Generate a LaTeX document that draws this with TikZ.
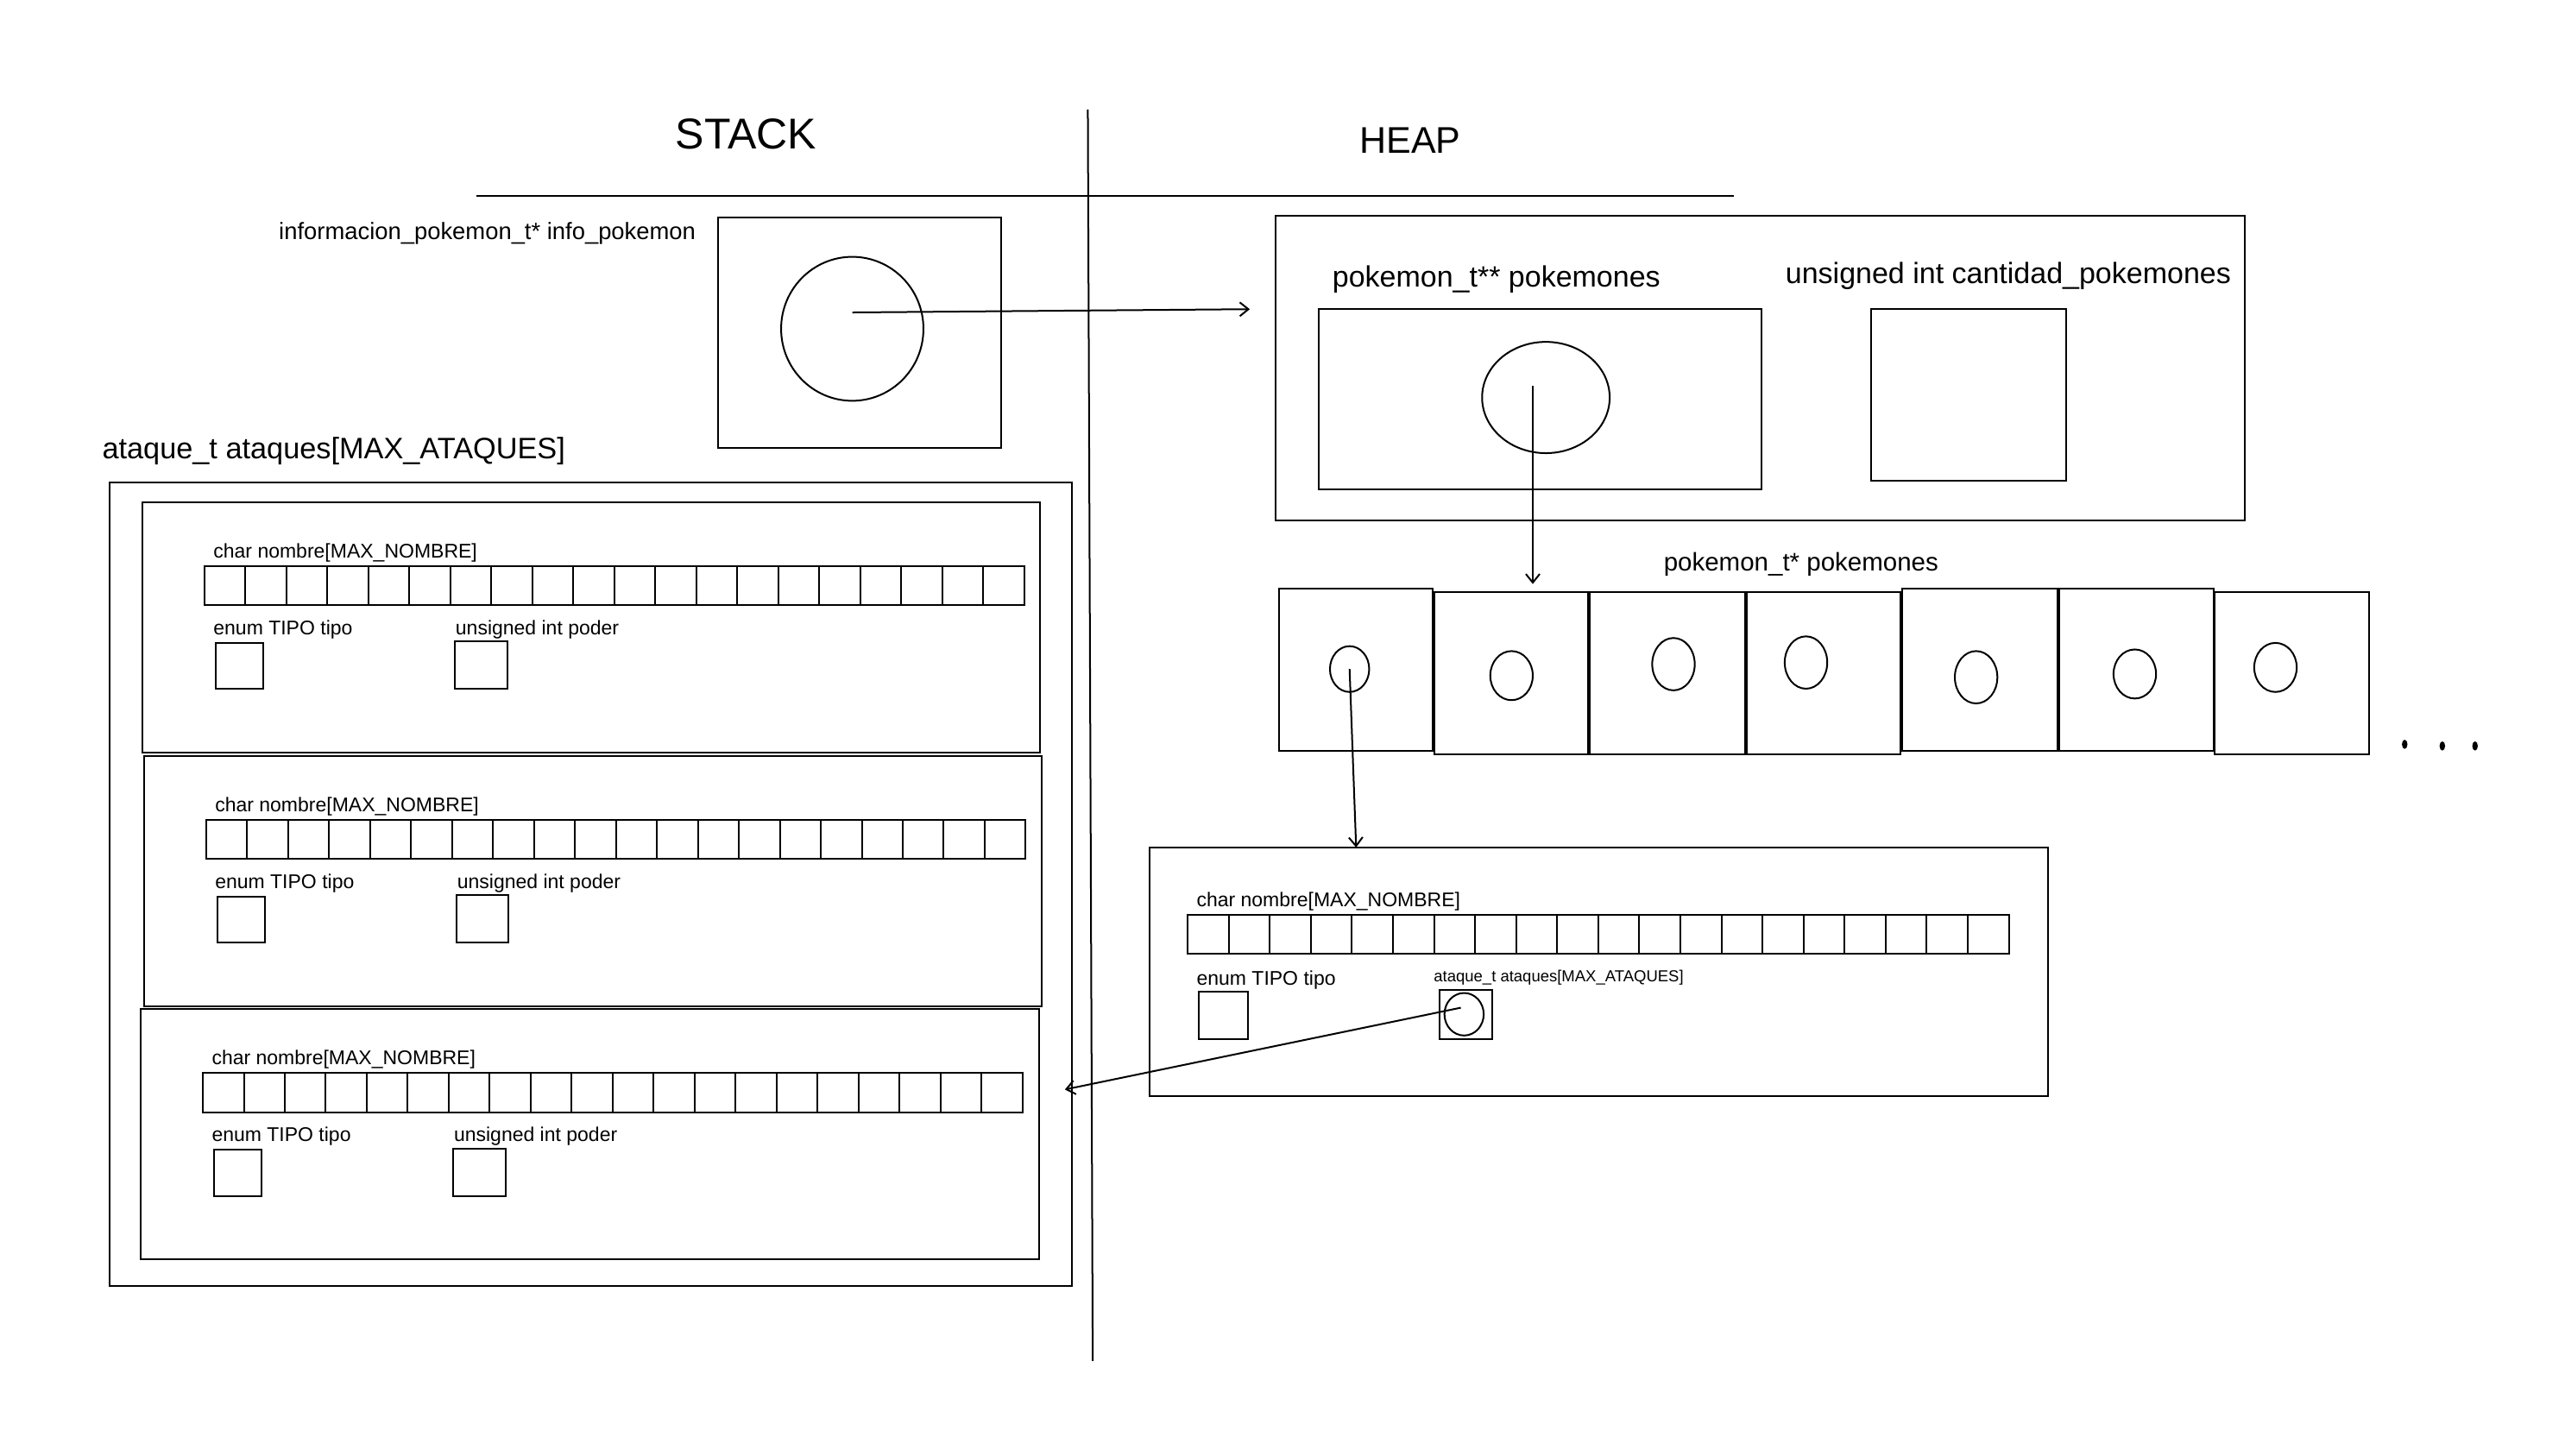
\documentclass[tikz,border=0pt]{standalone}
\usepackage{fontspec}
\setmainfont{Liberation Sans}
\usetikzlibrary{shapes.geometric,arrows.meta}
\newdimen\uu \uu=1.8954pt
\newcommand\chararr[4]{%
  \foreach \i in {0,...,19}{\draw ({#1+\i*(#2-#1)/20},#3) rectangle ({#1+(\i+1)*(#2-#1)/20},#4);}}
\begin{document}
\begin{tikzpicture}[x=1.8954pt,y=-1.8954pt,line width=2pt,
  lbl/.style={anchor=west,inner sep=0pt,yshift=-3.5pt,font=\fontsize{23}{26}\selectfont},
  arr/.style={-{Straight Barb[length=10pt,width=16pt]},line width=2pt},
  ell/.style={draw,ellipse,inner sep=0pt}]
\useasboundingbox (0,0) rectangle (1568,890);
% headers
\node[inner sep=0pt,yshift=-2pt,font=\fontsize{50}{56}\selectfont] (stack) at (456,81) {STACK};
\node[inner sep=0pt,yshift=-2pt,font=\fontsize{43}{48}\selectfont] (heap) at (862,85) {HEAP};
\draw (291,120) -- (1060,120);
\draw (665,67) -- (668,832);
% stack pointer
\node[lbl,font=\fontsize{27.4}{30}\selectfont] (infolbl) at (170,141) {informacion\_pokemon\_t* info\_pokemon};
\draw (439,133) rectangle (612,274);
\node[ell,minimum width=87\uu,minimum height=88\uu] (infoptr) at (521,201) {};
% heap struct
\draw (780,132) rectangle (1372,318);
\coordinate (infosrc) at (521,191);
\coordinate (heapin) at (764,189);
\draw[arr] (infosrc) -- (heapin);
\node[lbl,font=\fontsize{34}{38}\selectfont] (pplbl) at (814,169) {pokemon\_t** pokemones};
\draw (806,189) rectangle (1077,299);
\node[ell,minimum width=78\uu,minimum height=68\uu] (ppptr) at (945,243) {};
\node[lbl,font=\fontsize{34}{38}\selectfont] (cantlbl) at (1091,167) {unsigned int cantidad\_pokemones};
\draw (1144,189) rectangle (1263,294);
\coordinate (ppsrc) at (937,236);
\coordinate (arrin) at (937,357);
\draw[arr] (ppsrc) -- (arrin);
% pokemon array
\node[inner sep=0pt,yshift=-3.5pt,font=\fontsize{29.5}{33}\selectfont] (plbl) at (1101,343) {pokemon\_t* pokemones};
\draw (782,360) rectangle (876,459);
\draw (877,362) rectangle (971,461);
\draw (972,362) rectangle (1067,461);
\draw (1068,362) rectangle (1162,461);
\draw (1163,360) rectangle (1258,459);
\draw (1259,360) rectangle (1353,459);
\draw (1354,362) rectangle (1448,461);
\node[ell,minimum width=24\uu,minimum height=28\uu] (p1) at (825,409) {};
\node[ell,minimum width=26\uu,minimum height=30\uu] (p2) at (924,413) {};
\node[ell,minimum width=26\uu,minimum height=32\uu] (p3) at (1023,406) {};
\node[ell,minimum width=26\uu,minimum height=32\uu] (p4) at (1104,405) {};
\node[ell,minimum width=26\uu,minimum height=32\uu] (p5) at (1208,414) {};
\node[ell,minimum width=26\uu,minimum height=30\uu] (p6) at (1305,412) {};
\node[ell,minimum width=26\uu,minimum height=30\uu] (p7) at (1391,408) {};
\foreach \x/\y in {1470/455,1493/456,1513/456}
  \fill (\x,\y) ellipse [x radius=1.7, y radius=2.8];
% pokemon struct
\coordinate (pokin) at (829,518);
\draw[arr] (p1.center) -- (pokin);
\draw (703,518) rectangle (1252,670);
\node[lbl] (pnom) at (731,549) {char nombre[MAX\_NOMBRE]};
\chararr{726}{1228}{559}{583}
\node[lbl] (ptipo) at (731,597) {enum TIPO tipo};
\draw (733,606) rectangle (763,635);
\node[lbl,font=\fontsize{18.5}{21}\selectfont] (patq) at (876,596) {ataque\_t ataques[MAX\_ATAQUES]};
\draw (880,605) rectangle (912,635);
\node[ell,minimum width=24\uu,minimum height=26\uu] (atqptr) at (895,620) {};
% stack ataques
\node[lbl,font=\fontsize{34.3}{38}\selectfont] (atqlbl) at (62,274) {ataque\_t ataques[MAX\_ATAQUES]};
\draw (67,295) rectangle (655,786);
\coordinate (stackin) at (651,666);
\coordinate (atqsrc) at (893,616);
\draw[arr] (atqsrc) -- (stackin);
\foreach \ox/\oy [count=\k] in {87/307,88/462,86/617}{
  \begin{scope}[shift={(\ox,\oy)}]
    \draw (0,0) rectangle (549,153);
    \node[lbl] (nom\k) at (43,29) {char nombre[MAX\_NOMBRE]};
    \chararr{38}{539}{39}{63}
    \node[lbl] (tipo\k) at (43,76) {enum TIPO tipo};
    \draw (45,86) rectangle (74,114);
    \node[lbl] (poder\k) at (191,76) {unsigned int poder};
    \draw (191,85) rectangle (223,114);
  \end{scope}}
\end{tikzpicture}
\end{document}
